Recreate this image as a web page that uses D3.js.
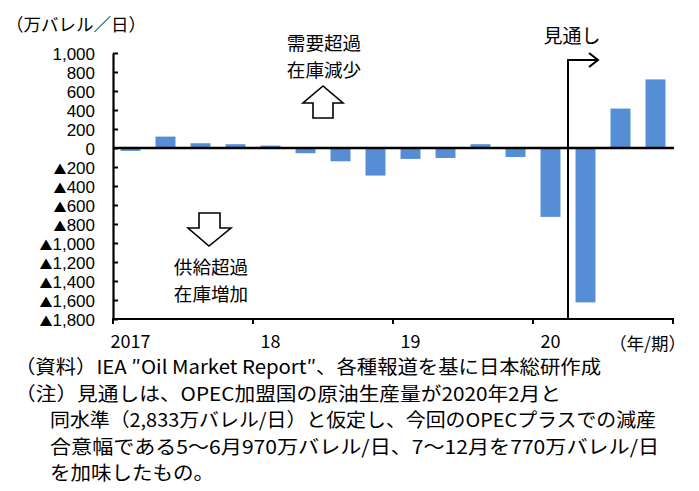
<!DOCTYPE html>
<html>
<head>
<meta charset="utf-8">
<script src="https://cdn.jsdelivr.net/npm/d3@7"></script>
<style>
  body { margin: 0; background: #fff; }
  svg { display: block; }
  .jp { font-family: "Noto Sans CJK JP", sans-serif; fill: #000; }
  .num { font-family: "Liberation Sans", Arial, sans-serif; fill: #000; }
</style>
</head>
<body>
<svg id="chart"></svg>
<script>
// quarterly oil supply/demand balance (10k barrels/day), 2017Q1 - 2020Q4
const quarters = ["2017Q1","2017Q2","2017Q3","2017Q4","2018Q1","2018Q2","2018Q3","2018Q4",
                  "2019Q1","2019Q2","2019Q3","2019Q4","2020Q1","2020Q2","2020Q3","2020Q4"]
const balance = [-30, 120, 50, 40, 25, -55, -140, -290, -115, -105, 40, -95, -725, -1625, 415, 722]
const yearLabels = ["2017", "18", "19", "20"]
const yTicks = d3.range(-1800, 1001, 200)
const forecastStart = "2020Q2"

const notes = [
  "（資料）IEA ″Oil Market Report″、各種報道を基に日本総研作成",
  "（注）見通しは、OPEC加盟国の原油生産量が2020年2月と",
  "同水準（2,833万バレル/日）と仮定し、今回のOPECプラスでの減産",
  "合意幅である5～6月970万バレル/日、7～12月を770万バレル/日",
  "を加味したもの。"
]
// rendered widths of the note lines (layout only)
const noteLayout = [
  {x: 15, w: 586}, {x: 15, w: 546}, {x: 50, w: 606}, {x: 50, w: 609}, {x: 50, w: 164}
]

const width = 699, height = 491
const svg = d3.select('#chart').attr('width', width).attr('height', height)

const x = d3.scaleBand().domain(quarters).range([113, 673]).paddingInner(0.43).paddingOuter(0.215)
const y = d3.scaleLinear().domain([-1800, 1000]).range([319, 53])
const gap = x.step() - x.bandwidth()

// unit label
svg.append('text').attr('class', 'jp')
  .attr('x', 6).attr('y', 31)
  .style('font-size', '17.5px')
  .text('（万バレル／日）')

// bars
svg.append('g').selectAll('rect')
  .data(balance)
  .join('rect')
  .attr('x', (d, i) => x(quarters[i]))
  .attr('width', x.bandwidth())
  .attr('y', d => y(Math.max(0, d)))
  .attr('height', d => Math.abs(y(d) - y(0)))
  .attr('fill', '#558ed5')

// y axis
const fmt = d3.format(',')
const yAxis = svg.append('g')
  .attr('transform', 'translate(113,0)')
  .call(d3.axisLeft(y).tickValues(yTicks).tickSizeInner(-5).tickSizeOuter(0).tickPadding(18)
    .tickFormat(v => fmt(Math.abs(v))))
yAxis.select('.domain').attr('stroke', '#000').attr('stroke-width', 2.2)
yAxis.selectAll('.tick line').attr('stroke', '#000').attr('stroke-width', 2)
yAxis.selectAll('text')
  .attr('class', 'num')
  .style('font-size', '17px')
  .attr('fill', '#000')
  .attr('dy', '0.36em')
  .each(function (v) {
    if (v >= 0) return
    const t = d3.select(this)
    const s = t.text()
    t.text(null)
    t.append('tspan').attr('class', 'jp').style('font-size', '13px').text('▲')
    t.append('tspan').text(s)
  })

// x axis
const xAxis = svg.append('g')
xAxis.append('line')
  .attr('x1', 112).attr('x2', 674).attr('y1', y(-1800)).attr('y2', y(-1800))
  .attr('stroke', '#000').attr('stroke-width', 2.2)
const boundaries = yearLabels.map((_, i) => x(quarters[i * 4]) - gap / 2).concat([x.range()[1]])
xAxis.selectAll('line.tk')
  .data(boundaries)
  .join('line')
  .attr('class', 'tk')
  .attr('x1', d => d).attr('x2', d => d)
  .attr('y1', y(-1800)).attr('y2', y(-1800) + 5)
  .attr('stroke', '#000').attr('stroke-width', 2)
xAxis.selectAll('text.yr')
  .data(yearLabels)
  .join('text')
  .attr('class', 'yr jp')
  .attr('x', (d, i) => x(quarters[i * 4]) + x.bandwidth() / 2)
  .attr('y', 348)
  .attr('text-anchor', 'middle')
  .style('font-size', '18px')
  .text(d => d)
svg.append('text').attr('class', 'jp')
  .attr('x', 686).attr('y', 350)
  .attr('text-anchor', 'end')
  .style('font-size', '17.5px')
  .text('（年/期）')

// zero line
svg.append('line')
  .attr('x1', 113).attr('x2', 674).attr('y1', y(0)).attr('y2', y(0))
  .attr('stroke', '#000').attr('stroke-width', 2.5)

// forecast marker
const fx = x(forecastStart) - gap / 2
const fy = 60
svg.append('path')
  .attr('d', `M${fx},${y(-1800)}V${fy}H${fx + 30}`)
  .attr('fill', 'none').attr('stroke', '#000').attr('stroke-width', 2)
svg.append('path')
  .attr('d', `M${fx + 21},${fy - 7}L${fx + 30},${fy}L${fx + 21},${fy + 7}`)
  .attr('fill', 'none').attr('stroke', '#000').attr('stroke-width', 2)
svg.append('text').attr('class', 'jp')
  .attr('x', fx + 4).attr('y', 43)
  .attr('text-anchor', 'middle')
  .style('font-size', '19px')
  .text('見通し')

// annotations
function label(lines, cx, y0) {
  svg.append('g').selectAll('text')
    .data(lines)
    .join('text')
    .attr('class', 'jp')
    .attr('x', cx).attr('y', (d, i) => y0 + i * 27)
    .attr('text-anchor', 'middle')
    .style('font-size', '18.6px')
    .text(d => d)
}
label(['需要超過', '在庫減少'], 324, 50)
label(['供給超過', '在庫増加'], 211, 274)

// block arrows
svg.append('path')
  .attr('d', 'M313,118V103H303L323,86L343,103H333V118Z')
  .attr('fill', '#fff').attr('stroke', '#000').attr('stroke-width', 1.6)
svg.append('path')
  .attr('d', 'M199,213V228H188L209,246L231,228H220V213Z')
  .attr('fill', '#fff').attr('stroke', '#000').attr('stroke-width', 1.6)

// notes
svg.append('g').selectAll('text')
  .data(notes)
  .join('text')
  .attr('class', 'jp')
  .attr('x', (d, i) => noteLayout[i].x)
  .attr('y', (d, i) => 374 + i * 26.5)
  .attr('textLength', (d, i) => noteLayout[i].w)
  .attr('lengthAdjust', 'spacingAndGlyphs')
  .style('font-size', '19px')
  .text(d => d)
</script>
</body>
</html>
